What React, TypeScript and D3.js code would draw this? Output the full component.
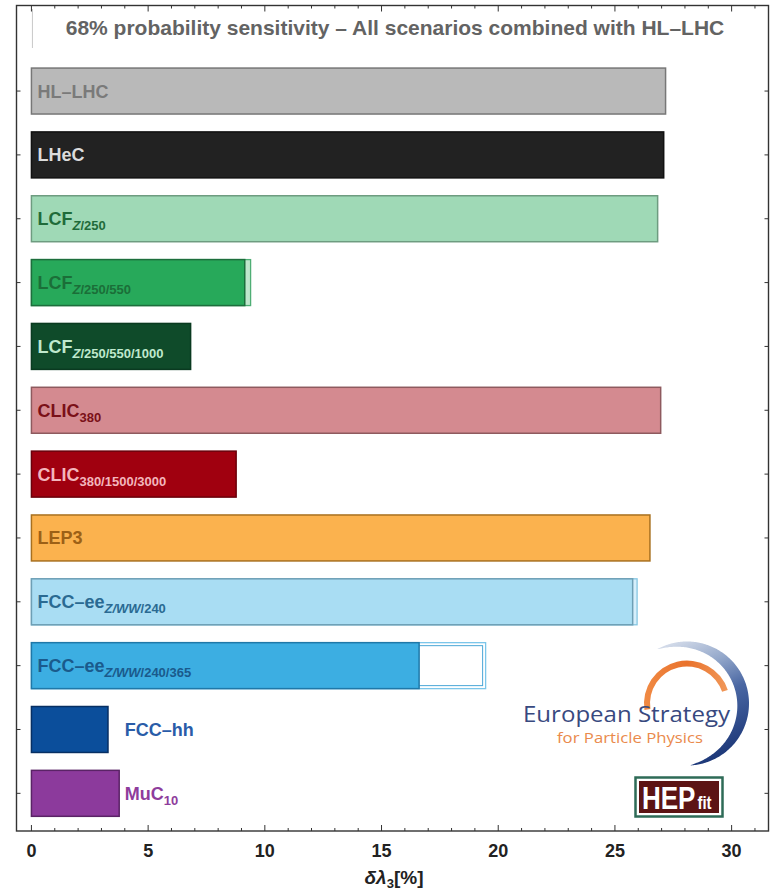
import React from 'react';
import * as d3 from 'd3';

const W = 772;
const H = 891;

const names = ["HL–LHC", "LHeC", "LCF", "LCF", "LCF", "CLIC", "CLIC", "LEP3", "FCC–ee", "FCC–ee", "FCC–hh", "MuC"];
const subItalic = ["", "", "Z", "Z", "Z", "", "", "", "Z/WW", "Z/WW", "", ""];
const subPlain = ["", "", "/250", "/250/550", "/250/550/1000", "380", "380/1500/3000", "", "/240", "/240/365", "", "10"];
const values = [27.17, 27.09, 26.83, 9.14, 6.82, 26.96, 8.77, 26.5, 25.76, 16.61, 3.28, 3.76];
const ghostValues = [0, 0, 0, 9.39, 0, 0, 0, 0, 25.95, 19.46, 0, 0];
const fills = ["#b9b9b9", "#222222", "#9fd9b6", "#27a95a", "#0f4b2a", "#d48a90", "#a0000f", "#fbb24e", "#a9ddf3", "#3caee2", "#0b4e9b", "#8c3a9c"];
const strokes = ["#777777", "#111111", "#6e9c80", "#1d6e3c", "#0a3a20", "#8e5a5e", "#6a000a", "#a8701f", "#6e9fb5", "#1f78a8", "#072f63", "#5a2366"];
const textColors = ["#7a7a7a", "#dcdcdc", "#1f6b3a", "#1b6e38", "#bfe9cd", "#7a1018", "#f3b6bc", "#9c6016", "#2a6a92", "#1a5a8c", "#2a5ca8", "#8e3c9c"];
const labelOutside = [false, false, false, false, false, false, false, false, false, false, true, true];
const ghostFills = ["none", "none", "none", "#bfe6cc", "none", "none", "none", "none", "#d6effb", "#ffffff", "none", "none"];
const ghostStrokes = ["none", "none", "none", "#4fae75", "none", "none", "none", "none", "#86c6e2", "#7cc6ea", "none", "none"];
const xTickValues = [0, 5, 10, 15, 20, 25, 30];
const xMinorValues = d3.range(0, 32, 1);
const outsideLabelValue = 4;

const title = "68% probability sensitivity – All scenarios combined with HL–LHC";

export default function App() {
  const left = 16.5, right = 768.5, top = 5.5, bottom = 831;
  const x = d3.scaleLinear().domain([-0.64, 31.58]).range([left, right]);
  const y = d3.scaleLinear().domain([-1.34, 11.59]).range([top, bottom]);
  const rowStep = y(1) - y(0);
  const barH = rowStep * 0.72;

  // logo geometry
  const cx = 687, cy = 703.5;
  const orangeArc = d3.arc()({ innerRadius: 37, outerRadius: 43, startAngle: -1.72, endAngle: 1.25 } as any) as string;
  const a0 = -0.5, a1 = 3.09;
  const angs = d3.range(a0, a1 + 0.001, 0.02);
  const crescent = d3.areaRadial<number>()
    .angle(d => d)
    .outerRadius(62)
    .innerRadius(d => {
      const t = (d - a0) / (a1 - a0);
      return 62 - 12 * Math.pow(Math.sin(Math.PI * t), 0.8);
    })(angs) as string;

  return (
    <svg width={W} height={H} style={{ position: 'absolute', left: 0, top: 0, background: '#fff' }}
      fontFamily="'Liberation Sans', Arial, sans-serif">
      <defs>
        <linearGradient id="blueGrad" gradientUnits="userSpaceOnUse" x1={-30} y1={-60} x2={25} y2={60}>
          <stop offset="0" stopColor="#dde3ee" />
          <stop offset="0.3" stopColor="#93a7ca" />
          <stop offset="0.55" stopColor="#4a67a3" />
          <stop offset="1" stopColor="#1b3677" />
        </linearGradient>
        <linearGradient id="orGrad" gradientUnits="userSpaceOnUse" x1={-43} y1={0} x2={43} y2={0}>
          <stop offset="0" stopColor="#f08a44" />
          <stop offset="0.5" stopColor="#e9722c" />
          <stop offset="1" stopColor="#f19a5c" />
        </linearGradient>
      </defs>
      <rect x={0} y={0} width={W} height={H} fill="#fff" />

      {/* title */}
      <line x1={x(0) + 1} x2={x(0) + 1} y1={9} y2={48} stroke="#c8c8c8" strokeWidth={1} />
      <text x={395} y={y(-1) + 8} textAnchor="middle" fontSize={21} fontWeight="bold" fill="#636363">{title}</text>

      {/* bars */}
      {values.map((v, i) => {
        const yc = y(i);
        const g = ghostValues[i];
        return (
          <g key={i}>
            {g > 0 && (
              <rect x={x(0)} y={yc - barH / 2} width={x(g) - x(0)} height={barH}
                fill={ghostFills[i]} stroke={ghostStrokes[i]} strokeWidth={1.3} />
            )}
            {g > 0 && i === 9 && (
              <rect x={x(0) + 3} y={yc - barH / 2 + 3} width={x(g) - x(0) - 6} height={barH - 6}
                fill="#fff" stroke="#4aa6d6" strokeWidth={1} />
            )}
            <rect x={x(0)} y={yc - barH / 2} width={x(v) - x(0)} height={barH}
              fill={fills[i]} stroke={strokes[i]} strokeWidth={1.5} />
          </g>
        );
      })}

      {/* labels */}
      {names.map((n, i) => {
        const yc = y(i);
        const lx = labelOutside[i] ? x(outsideLabelValue) : x(0) + 6;
        const hasIt = subItalic[i] !== "";
        const hasPl = subPlain[i] !== "";
        return (
          <text key={i} x={lx} y={yc + 6.5} fontSize={18} fontWeight="bold" fill={textColors[i]}>
            {n}
            {hasIt && <tspan dy={5} fontSize={13} fontStyle="italic">{subItalic[i]}</tspan>}
            {hasPl && <tspan dy={hasIt ? 0 : 5} fontSize={13}>{subPlain[i]}</tspan>}
          </text>
        );
      })}

      {/* frame */}
      <rect x={left} y={top} width={right - left} height={bottom - top} fill="none" stroke="#333" strokeWidth={1.4} />

      {/* ticks */}
      {xMinorValues.map(v => {
        const major = v % 5 === 0;
        const len = major ? 6 : 3;
        return (
          <g key={'t' + v} stroke="#333" strokeWidth={1}>
            <line x1={x(v)} x2={x(v)} y1={bottom} y2={bottom - len} />
            <line x1={x(v)} x2={x(v)} y1={top} y2={top + len} />
          </g>
        );
      })}
      {values.map((_, i) => (
        <g key={'yt' + i} stroke="#333" strokeWidth={1}>
          <line x1={left} x2={left + 4} y1={y(i)} y2={y(i)} />
          <line x1={right} x2={right - 4} y1={y(i)} y2={y(i)} />
        </g>
      ))}
      {xTickValues.map(v => (
        <text key={'tl' + v} x={x(v)} y={bottom + 26} textAnchor="middle" fontSize={18} fontWeight="bold" fill="#222">{v}</text>
      ))}
      <text x={394} y={bottom + 53} textAnchor="middle" fontSize={19} fontWeight="bold" fill="#222">
        <tspan fontStyle="italic">δλ</tspan>
        <tspan dy={4} fontSize={13}>3</tspan>
        <tspan dy={-4}>[%]</tspan>
      </text>

      {/* European Strategy logo */}
      <g transform={`translate(${cx},${cy})`}>
        <path d={orangeArc} fill="url(#orGrad)" />
        <path d={crescent} fill="url(#blueGrad)" />
      </g>
      <text x={523} y={722} fontFamily="'Open Sans', 'Noto Sans', sans-serif" fontSize={21} fill="#38497f"
        textLength={207} lengthAdjust="spacingAndGlyphs">European Strategy</text>
      <text x={557} y={743} fontFamily="'Open Sans', 'Noto Sans', sans-serif" fontSize={14} fill="#ea8a4c"
        textLength={146} lengthAdjust="spacingAndGlyphs">for Particle Physics</text>

      {/* HEPfit logo */}
      <rect x={635.5} y={777.5} width={87} height={39} fill="#fff" stroke="#2e6b57" strokeWidth={2.5} />
      <rect x={639} y={781} width={80} height={32} fill="#5c1414" />
      <text transform="translate(642,809) scale(1,1.22)" x={0} y={0} fontWeight="bold" fill="#fff">
        <tspan fontSize={26}>HEP</tspan>
        <tspan dx={2} fontSize={15}>fit</tspan>
      </text>
    </svg>
  );
}
